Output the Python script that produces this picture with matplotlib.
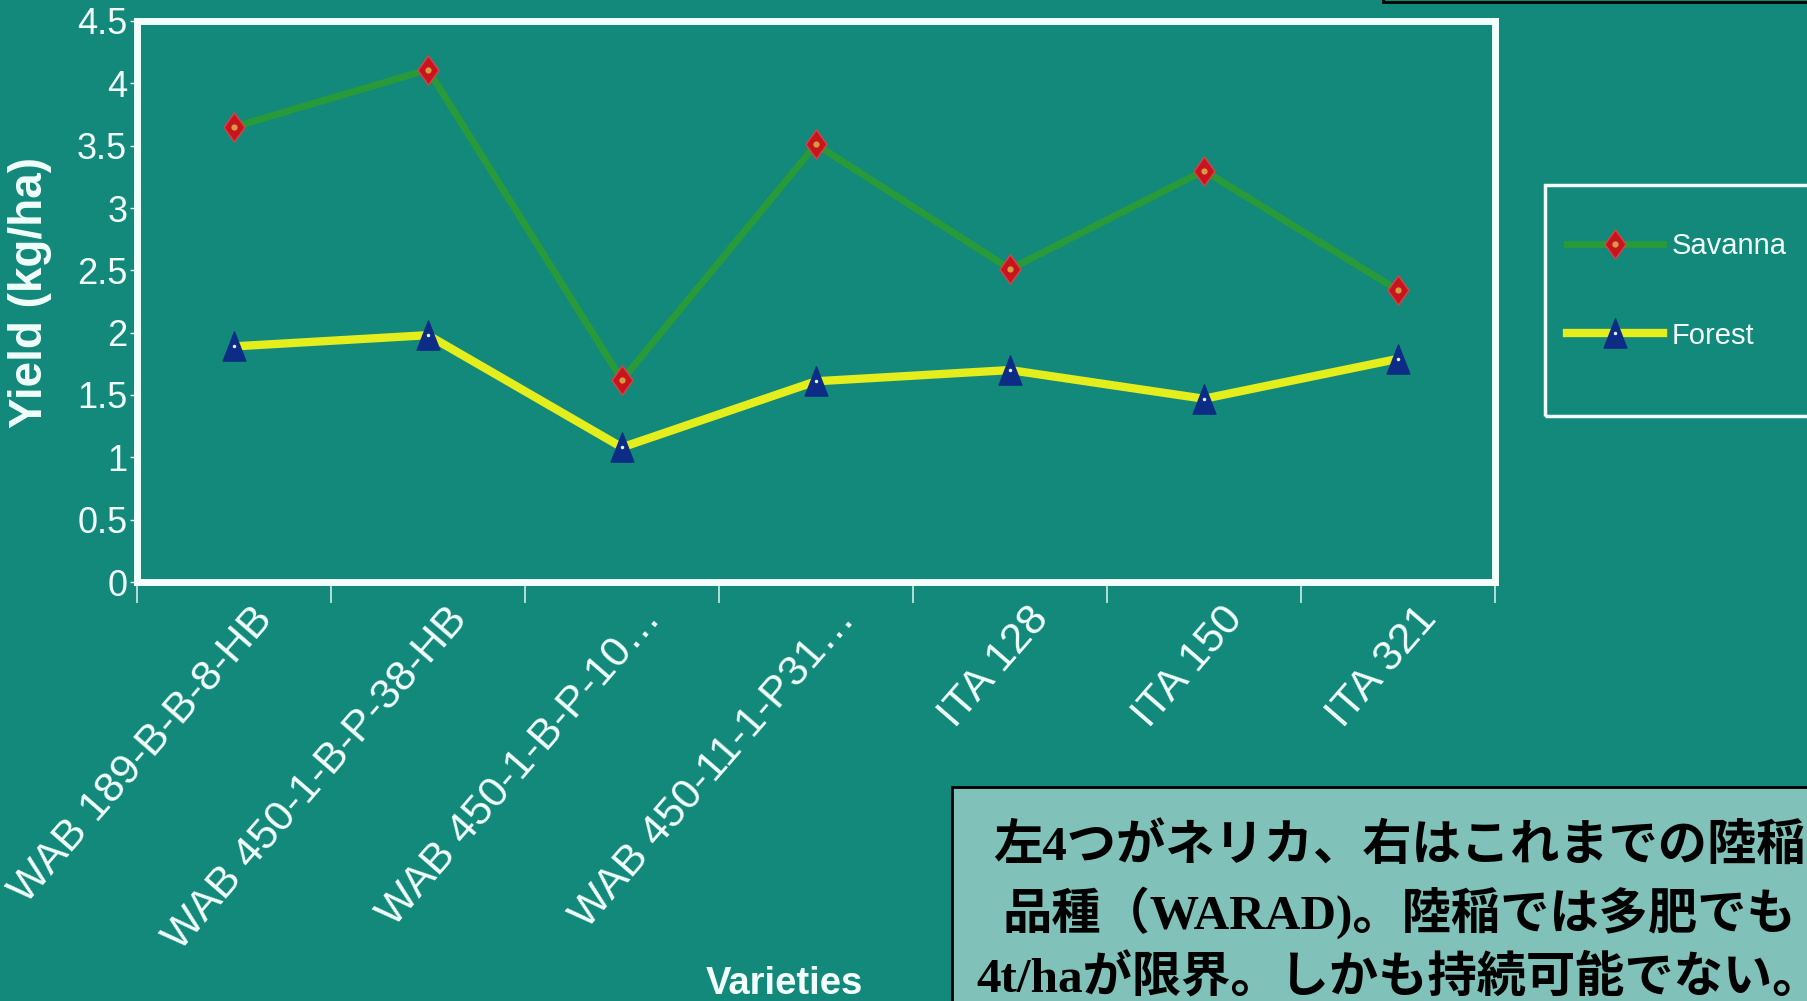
import numpy as np
import matplotlib
matplotlib.use("Agg")
import matplotlib.pyplot as plt
from matplotlib.path import Path
from matplotlib.patches import Rectangle
from matplotlib.transforms import ScaledTranslation
from matplotlib.legend_handler import HandlerTuple

# data
varieties = ["WAB 189-B-B-8-HB", "WAB 450-1-B-P-38-HB", "WAB 450-1-B-P-10\u2026",
             "WAB 450-11-1-P31\u2026", "ITA 128", "ITA 150", "ITA 321"]
savanna = [3.65, 4.11, 1.62, 3.51, 2.51, 3.30, 2.34]
forest = [1.89, 1.98, 1.08, 1.61, 1.70, 1.47, 1.79]
y_ticks = [0, 0.5, 1, 1.5, 2, 2.5, 3, 3.5, 4, 4.5]
y_tick_labels = ["0", "0.5", "1", "1.5", "2", "2.5", "3", "3.5", "4", "4.5"]
note_lines = ["左4つがネリカ、右はこれまでの陸稲",
              "品種（WARAD)。陸稲では多肥でも",
              "4t/haが限界。しかも持続可能でない。"]

W, H = 1808, 1001
BG = "#12897a"
WHITE = "#f2fffb"

plt.rcParams["font.family"] = ["Liberation Sans", "DejaVu Sans"]

fig = plt.figure(figsize=(W / 100, H / 100), dpi=100, facecolor=BG)


def fx(px):
    return px / W


def fy(py):
    return 1 - py / H


ax = fig.add_axes([fx(137), fy(582), fx(1495) - fx(137), fy(21) - fy(582)])
ax.set_facecolor(BG)

# taller-than-wide marker shapes, like the slide
diamond = Path([(0, 1), (0.72, 0), (0, -1), (-0.72, 0), (0, 1)],
               [Path.MOVETO, Path.LINETO, Path.LINETO, Path.LINETO, Path.CLOSEPOLY])
triangle = Path([(0, 1), (0.78, -1), (-0.78, -1), (0, 1)],
                [Path.MOVETO, Path.LINETO, Path.LINETO, Path.CLOSEPOLY])

x = np.arange(len(varieties))
l_sav, = ax.plot(x, savanna, color="#289a3a", lw=5, marker=diamond, ms=21,
                 mfc="#c8141e", mec="#d84444", mew=1)
d_sav, = ax.plot(x, savanna, ls="none", marker="o", ms=4.5, mfc="#d89a40", mec="none")
l_for, = ax.plot(x, forest, color="#e4ee1c", lw=6, marker=triangle, ms=21,
                 mfc="#0c2c86", mec="#0c2c86", mew=1)
d_for, = ax.plot(x, forest, ls="none", marker="o", ms=2.5, mfc="#e0f0ff", mec="none")

ax.set_xlim(-0.5, len(varieties) - 0.5)
ax.set_ylim(0, 4.5)

for s in ax.spines.values():
    s.set_color(WHITE)
    s.set_linewidth(5)

ax.set_yticks(y_ticks)
ax.set_yticklabels(y_tick_labels)
ax.tick_params(axis="y", length=5, width=1, color=WHITE, pad=2,
               labelsize=26, labelcolor=WHITE)

ax.set_xticks(x)
ax.set_xticklabels(varieties)
ax.set_xticks(np.arange(-0.5, len(varieties)), minor=True)
ax.tick_params(axis="x", which="major", length=0, pad=22, labelsize=31, labelcolor=WHITE)
ax.tick_params(axis="x", which="minor", length=15, width=1.2, color="#cfeee8")
shift = ScaledTranslation(0.32, 0, fig.dpi_scale_trans)
for lab in ax.get_xticklabels():
    lab.set_rotation(49)
    lab.set_rotation_mode("anchor")
    lab.set_ha("right")
    lab.set_va("center")
    lab.set_transform(lab.get_transform() + shift)

fig.text(fx(30), fy(292), "Yield (kg/ha)", rotation=90, ha="center", va="center",
         fontsize=33, fontweight="bold", color=WHITE)
fig.text(fx(784), fy(984), "Varieties", ha="center", va="center",
         fontsize=27.5, fontweight="bold", color=WHITE)

# legend box running off the right edge
fig.add_artist(Rectangle((fx(1545), fy(416)), fx(1830) - fx(1545), fy(185) - fy(416),
                         transform=fig.transFigure, fill=False, ec=WHITE, lw=2.5))
ax.legend([(l_sav, d_sav), (l_for, d_for)], ["Savanna", "Forest"],
          handler_map={tuple: HandlerTuple(ndivide=1)},
          loc="center left", bbox_to_anchor=(fx(1567), fy(291)),
          bbox_transform=fig.transFigure, frameon=False, borderpad=0,
          borderaxespad=0, handlelength=3.3, handletextpad=0.3,
          labelspacing=2.1, fontsize=21, labelcolor=WHITE)

# black-edged box at the very top right
fig.add_artist(Rectangle((fx(1383), fy(2)), fx(1830) - fx(1383), 0.05,
                         transform=fig.transFigure, fc="#0c8a70", ec="black", lw=2))

# note box at the bottom right
fig.add_artist(Rectangle((fx(952), fy(1030)), fx(1840) - fx(952), fy(787) - fy(1030),
                         transform=fig.transFigure, fc="#80c2b9", ec="black", lw=2))
for line, yc in zip(note_lines, [847, 913, 979]):
    fig.text(fx(1399), fy(yc), line, ha="center", va="center", fontsize=35.5,
             fontweight="bold", color="black",
             family=["Liberation Serif", "Noto Sans CJK JP"])

fig.savefig("out.png", dpi=100, facecolor=BG)
